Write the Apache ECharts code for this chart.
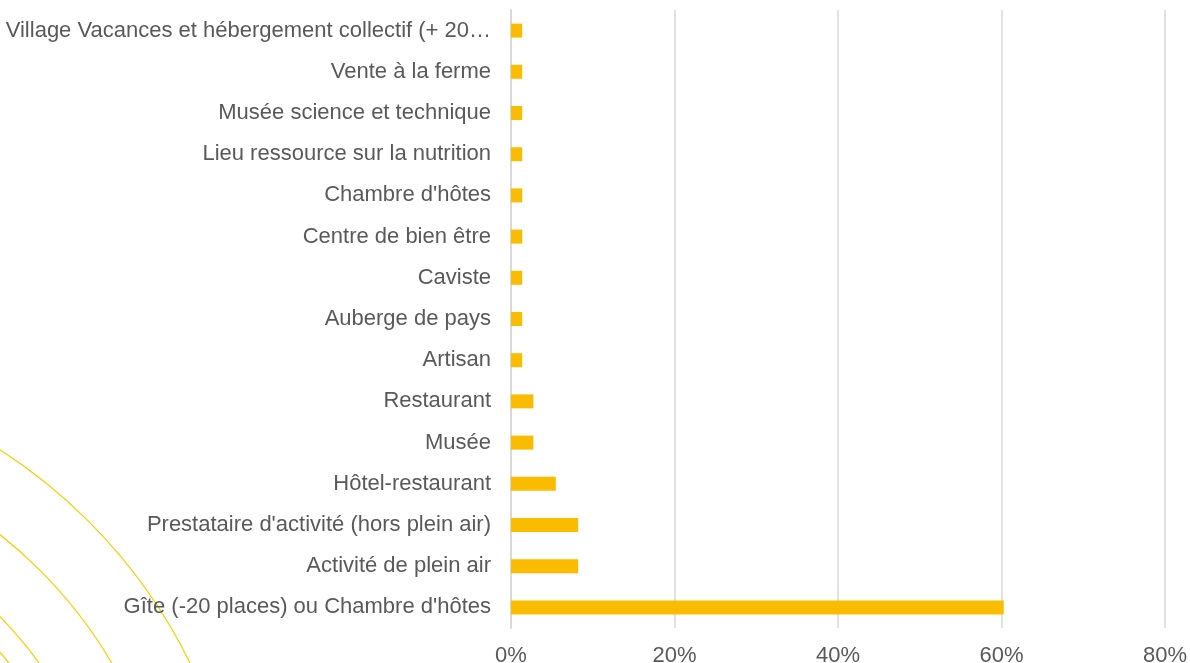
<!DOCTYPE html>
<html>
<head>
<meta charset="utf-8">
<script src="https://cdn.jsdelivr.net/npm/echarts@6/dist/echarts.min.js"></script>
<style>
  html, body { margin: 0; padding: 0; background: #fff; }
  #chart { width: 1190px; height: 663px; }
</style>
</head>
<body>
<div id="chart"></div>
<script>
// categories, bottom to top
const categories = [
  "Gîte (-20 places) ou Chambre d'hôtes",
  'Activité de plein air',
  "Prestataire d'activité (hors plein air)",
  'Hôtel-restaurant',
  'Musée',
  'Restaurant',
  'Artisan',
  'Auberge de pays',
  'Caviste',
  'Centre de bien être',
  "Chambre d'hôtes",
  'Lieu ressource sur la nutrition',
  'Musée science et technique',
  'Vente à la ferme',
  'Village Vacances et hébergement collectif (+ 20 places)'
]

// share in %
const shares = [60.27, 8.22, 8.22, 5.48, 2.74, 2.74, 1.37, 1.37, 1.37, 1.37, 1.37, 1.37, 1.37, 1.37, 1.37]

const xTicks = [0, 20, 40, 60, 80]

// decorative arcs in the corner (radius in px)
const arcRadii = [534, 465, 404, 380]

const chart = echarts.init(document.getElementById('chart'), null, { renderer: 'canvas' })

const font = "'Liberation Sans', Arial, sans-serif"

chart.setOption({
  animation: false,
  backgroundColor: '#ffffff',
  textStyle: { fontFamily: font },
  graphic: arcRadii.map(r => ({
    type: 'circle',
    z: -10,
    silent: true,
    shape: { cx: -289, cy: 899, r: r },
    style: { fill: 'none', stroke: '#F4D000', lineWidth: 1.2 }
  })),
  grid: { left: 511, right: 25, top: 10, bottom: 35, outerBoundsMode: 'none' },
  xAxis: {
    type: 'value',
    min: xTicks[0],
    max: xTicks[xTicks.length - 1],
    interval: 20,
    axisLine: { show: false },
    axisTick: { show: false },
    splitLine: { lineStyle: { color: '#D9D9D9', width: 1.5 } },
    axisLabel: {
      formatter: v => v + '%',
      color: '#595959',
      fontSize: 22,
      fontFamily: font,
      margin: 17
    }
  },
  yAxis: {
    type: 'category',
    data: categories,
    axisLine: { show: true, lineStyle: { color: '#D9D9D9', width: 2 } },
    axisTick: { show: false },
    axisLabel: {
      color: '#595959',
      fontSize: 22,
      fontFamily: font,
      margin: 20,
      width: 497,
      overflow: 'truncate',
      ellipsis: '…'
    }
  },
  series: [{
    type: 'bar',
    data: shares,
    barWidth: 14,
    itemStyle: { color: '#FBBC00' }
  }]
})
</script>
</body>
</html>
